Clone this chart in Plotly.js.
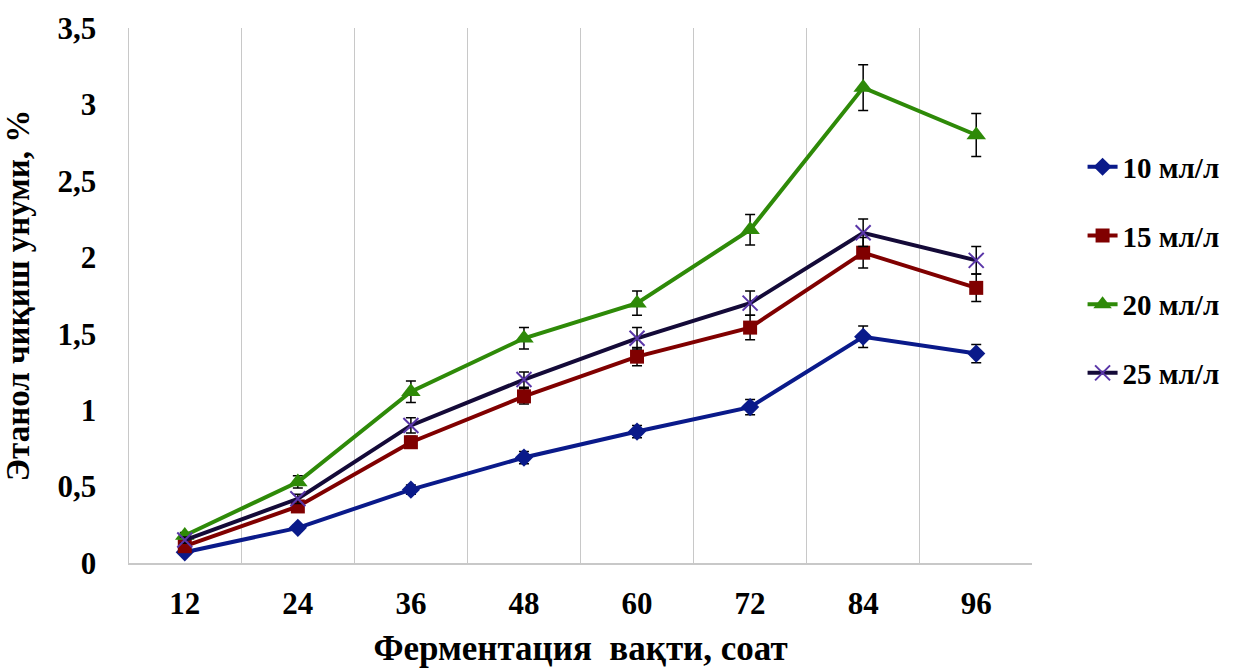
<!DOCTYPE html>
<html>
<head>
<meta charset="utf-8">
<script src="https://cdn.plot.ly/plotly-3.0.1.min.js"></script>
<style>
  html, body { margin: 0; padding: 0; background: #fff; }
  #chart { width: 1241px; height: 668px; }
</style>
</head>
<body>
<div id="chart"></div>
<script>
// Categories (fermentation time, hours)
const hours = ['12', '24', '36', '48', '60', '72', '84', '96'];

// Series names
const seriesNames = ['10 мл/л', '15 мл/л', '20 мл/л', '25 мл/л'];

// Ethanol yield, %
const y10 = [0.07, 0.23, 0.48, 0.69, 0.86, 1.02, 1.48, 1.37];
const y15 = [0.11, 0.37, 0.79, 1.09, 1.35, 1.54, 2.03, 1.80];
const y20 = [0.18, 0.53, 1.12, 1.47, 1.70, 2.18, 3.11, 2.80];
const y25 = [0.15, 0.42, 0.90, 1.20, 1.47, 1.70, 2.16, 1.98];

// Error bar half-widths
const e10 = [0.02, 0.02, 0.03, 0.04, 0.04, 0.05, 0.07, 0.06];
const e15 = [0.02, 0.03, 0.04, 0.05, 0.06, 0.08, 0.10, 0.09];
const e20 = [0.02, 0.04, 0.07, 0.07, 0.08, 0.10, 0.15, 0.14];
const e25 = [0.02, 0.03, 0.05, 0.05, 0.07, 0.08, 0.09, 0.09];

const FONT = 'Liberation Serif, Times New Roman, serif';

function mk(name, y, err, color, marker, group) {
  return {
    type: 'scatter', mode: 'lines+markers', name: name,
    x: hours, y: y, legendgroup: group,
    line: { color: color, width: 4 },
    marker: marker,
    error_y: { type: 'data', array: err, visible: true, color: '#000', thickness: 1.5, width: 5 }
  };
}

const traces = [
  mk(seriesNames[0], y10, e10, '#0a1a8a', { symbol: 'diamond', size: 14, color: '#0a1a8a' }, 'a'),
  mk(seriesNames[1], y15, e15, '#800000', { symbol: 'square', size: 14, color: '#800000' }, 'b'),
  mk(seriesNames[2], y20, e20, '#2e8a08', { symbol: 'triangle-up', size: 17, color: '#2e8a08' }, 'c'),
  mk(seriesNames[3], y25, e25, '#140a38', { symbol: 'x-thin', size: 15, line: { color: '#5a36a8', width: 2 } }, 'd')
];

const layout = {
  width: 1241, height: 668,
  margin: { l: 129, r: 209, t: 28, b: 105 },
  paper_bgcolor: '#fff', plot_bgcolor: '#fff',
  separators: ', ',
  font: { family: FONT, color: '#000' },
  showlegend: true,
  legend: {
    x: 1.056, xanchor: 'left', y: 0.788, yanchor: 'top',
    font: { family: FONT, size: 29, color: '#000', weight: 'bold' },
    traceorder: 'grouped', tracegroupgap: 28,
    bgcolor: 'rgba(0,0,0,0)', borderwidth: 0
  },
  xaxis: {
    type: 'category',
    tickson: 'boundaries',
    showgrid: true, gridcolor: '#c8c8c8', gridwidth: 1.5,
    showline: true, linecolor: '#c8c8c8', linewidth: 1.5,
    ticks: '', ticklabelstandoff: 12,
    tickfont: { family: FONT, size: 31, color: '#000', weight: 'bold' },
    title: { text: 'Ферментация  вақти, соат', standoff: 24,
             font: { family: FONT, size: 35, color: '#000', weight: 'bold' } },
    zeroline: false, fixedrange: true
  },
  yaxis: {
    range: [0, 3.5], dtick: 0.5, tick0: 0,
    showgrid: false,
    showline: true, linecolor: '#c8c8c8', linewidth: 1.5,
    ticks: '', ticklabelstandoff: 25,
    tickfont: { family: FONT, size: 31, color: '#000', weight: 'bold' },
    title: { text: 'Этанол чиқиш унуми, %', standoff: 22,
             font: { family: FONT, size: 33, color: '#000', weight: 'bold' } },
    zeroline: false, fixedrange: true
  }
};

Plotly.newPlot('chart', traces, layout, { displayModeBar: false, staticPlot: true });
</script>
</body>
</html>
